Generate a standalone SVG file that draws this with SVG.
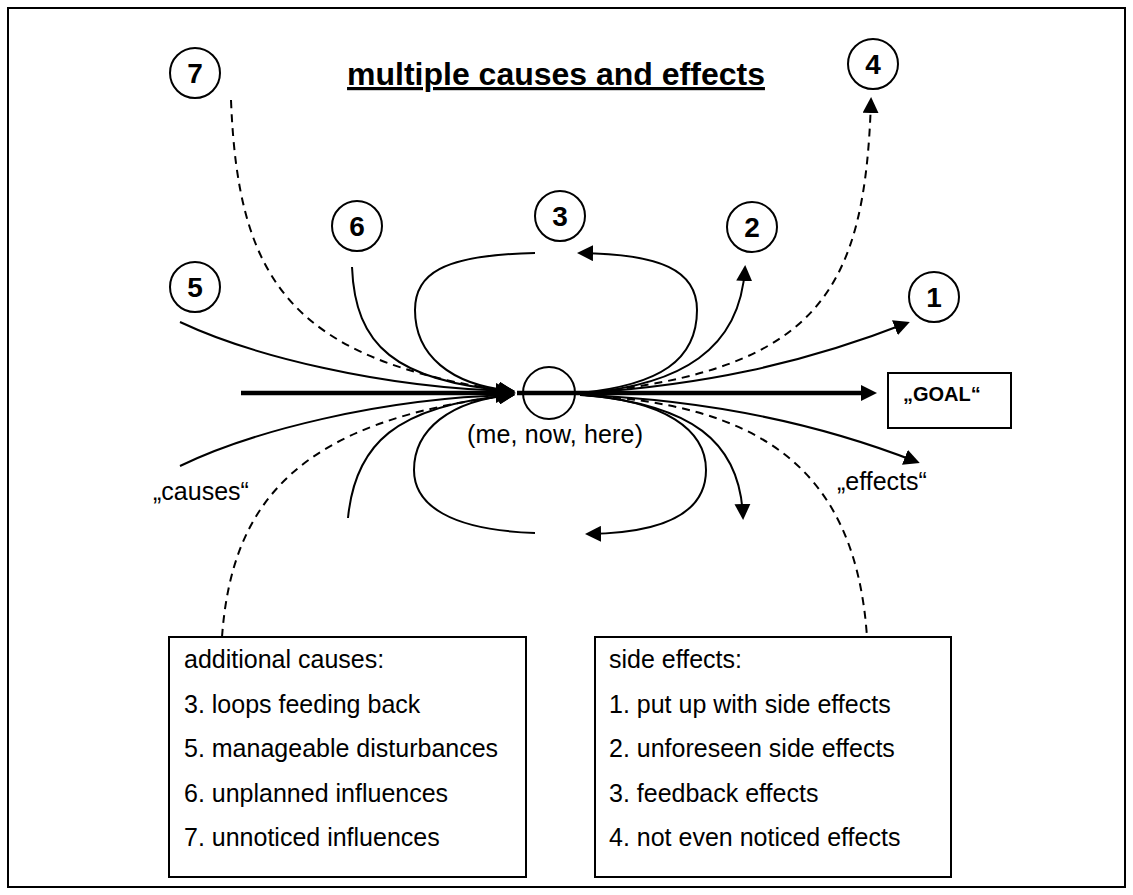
<svg xmlns="http://www.w3.org/2000/svg" width="1133" height="895" viewBox="0 0 1133 895">
<style>
.ln{fill:none;stroke:#000;stroke-width:2}
.ds{fill:none;stroke:#000;stroke-width:2;stroke-dasharray:8,6}
.thick{fill:none;stroke:#000;stroke-width:4.5}
.nc{fill:#fff;stroke:#000;stroke-width:2}
.num{font-family:"Liberation Sans",Arial,sans-serif;font-weight:bold;font-size:28px;text-anchor:middle}
.t{font-family:"Liberation Sans",Arial,sans-serif;font-size:25px}
.box{fill:#fff;stroke:#000;stroke-width:2}
</style>
<defs>
<marker id="a" markerUnits="userSpaceOnUse" markerWidth="16" markerHeight="16" viewBox="0 0 16 16" refX="13" refY="8" orient="auto"><path d="M0,0 L16,8 L0,16 z" fill="#000"/></marker>
<marker id="ab" markerUnits="userSpaceOnUse" markerWidth="20" markerHeight="20" viewBox="0 0 20 20" refX="12" refY="10" orient="auto"><path d="M0,0 L20,10 L0,20 z" fill="#000"/></marker>
<marker id="ag" markerUnits="userSpaceOnUse" markerWidth="16" markerHeight="16" viewBox="0 0 16 16" refX="10" refY="8" orient="auto"><path d="M0,0 L16,8 L0,16 z" fill="#000"/></marker>
</defs>
<rect x="8" y="8" width="1117" height="879" fill="#fff" stroke="#000" stroke-width="2"/>
<text x="556" y="85" text-anchor="middle" font-family="Liberation Sans, Arial, sans-serif" font-weight="bold" font-size="32" text-decoration="underline">multiple causes and effects</text>
<g id="connectors">
<path class="thick" d="M241,393 L508,393" marker-end="url(#ab)"/>
<path class="thick" d="M517,393 L871,393" marker-end="url(#ag)"/>
<path class="ln" d="M180,322 C250,355 380,388 512,391" marker-end="url(#a)"/>
<path class="ln" d="M180,466 C250,432 380,398 512,395" marker-end="url(#a)"/>
<path class="ln" d="M352,267 C355,345 395,382 512,391" marker-end="url(#a)"/>
<path class="ln" d="M348,518 C355,445 395,405 512,395" marker-end="url(#a)"/>
<path class="ds" d="M231,100 C238,280 290,360 512,392" marker-end="url(#a)"/>
<path class="ds" d="M222,637 C232,500 300,420 512,395" marker-end="url(#a)"/>
<path class="ln" d="M535,253 C440,255 415,275 415,310 C415,355 450,385 512,391" marker-end="url(#a)"/>
<path class="ln" d="M535,533 C450,530 414,505 414,470 C414,430 450,400 512,395" marker-end="url(#a)"/>
<path class="ln" d="M580,393 C660,385 697,360 697,310 C697,270 660,254 580,253" marker-end="url(#a)"/>
<path class="ln" d="M580,395 C665,400 706,430 706,470 C706,515 660,533 588,534" marker-end="url(#a)"/>
<path class="ln" d="M585,393 C680,385 740,350 745,268" marker-end="url(#a)"/>
<path class="ln" d="M585,395 C690,405 740,440 743,517" marker-end="url(#a)"/>
<path class="ln" d="M585,393 C700,385 800,365 907,323" marker-end="url(#a)"/>
<path class="ln" d="M585,395 C700,400 810,420 917,462" marker-end="url(#a)"/>
<path class="ds" d="M585,393 C820,370 865,290 871,100" marker-end="url(#a)"/>
<path class="ds" d="M585,395 C750,405 855,460 867,637"/>
</g>
<g id="center"><circle cx="549" cy="393" r="26" fill="none" stroke="#000" stroke-width="2"/>
<text class="t" x="555" y="443" text-anchor="middle" textLength="176">(me, now, here)</text></g>
<g id="n7"><circle class="nc" cx="195" cy="73" r="25"/><text class="num" x="195" y="83">7</text></g>
<g id="n4"><circle class="nc" cx="873" cy="64" r="25"/><text class="num" x="873" y="74">4</text></g>
<g id="n6"><circle class="nc" cx="357" cy="226" r="25"/><text class="num" x="357" y="236">6</text></g>
<g id="n3"><circle class="nc" cx="560" cy="216" r="25"/><text class="num" x="560" y="226">3</text></g>
<g id="n2"><circle class="nc" cx="752" cy="227" r="25"/><text class="num" x="752" y="237">2</text></g>
<g id="n5"><circle class="nc" cx="195" cy="287" r="25"/><text class="num" x="195" y="297">5</text></g>
<g id="n1"><circle class="nc" cx="934" cy="297" r="25"/><text class="num" x="934" y="307">1</text></g>
<g id="goal"><rect class="box" x="888" y="373" width="123" height="55"/><text x="903" y="401" font-family="Liberation Sans, Arial, sans-serif" font-weight="bold" font-size="20">„GOAL“</text></g>
<g id="causes-label"><text class="t" x="153" y="500">„causes“</text></g>
<g id="effects-label"><text class="t" x="837" y="490">„effects“</text></g>
<g id="causes-box"><rect class="box" x="169" y="637" width="357" height="240"/>
<text class="t" x="184" y="668">additional causes:</text>
<text class="t" x="184" y="713">3. loops feeding back</text>
<text class="t" x="184" y="757">5. manageable disturbances</text>
<text class="t" x="184" y="802">6. unplanned influences</text>
<text class="t" x="184" y="846">7. unnoticed influences</text></g>
<g id="effects-box"><rect class="box" x="595" y="637" width="356" height="240"/>
<text class="t" x="609" y="668">side effects:</text>
<text class="t" x="609" y="713">1. put up with side effects</text>
<text class="t" x="609" y="757">2. unforeseen side effects</text>
<text class="t" x="609" y="802">3. feedback effects</text>
<text class="t" x="609" y="846">4. not even noticed effects</text></g>
</svg>
